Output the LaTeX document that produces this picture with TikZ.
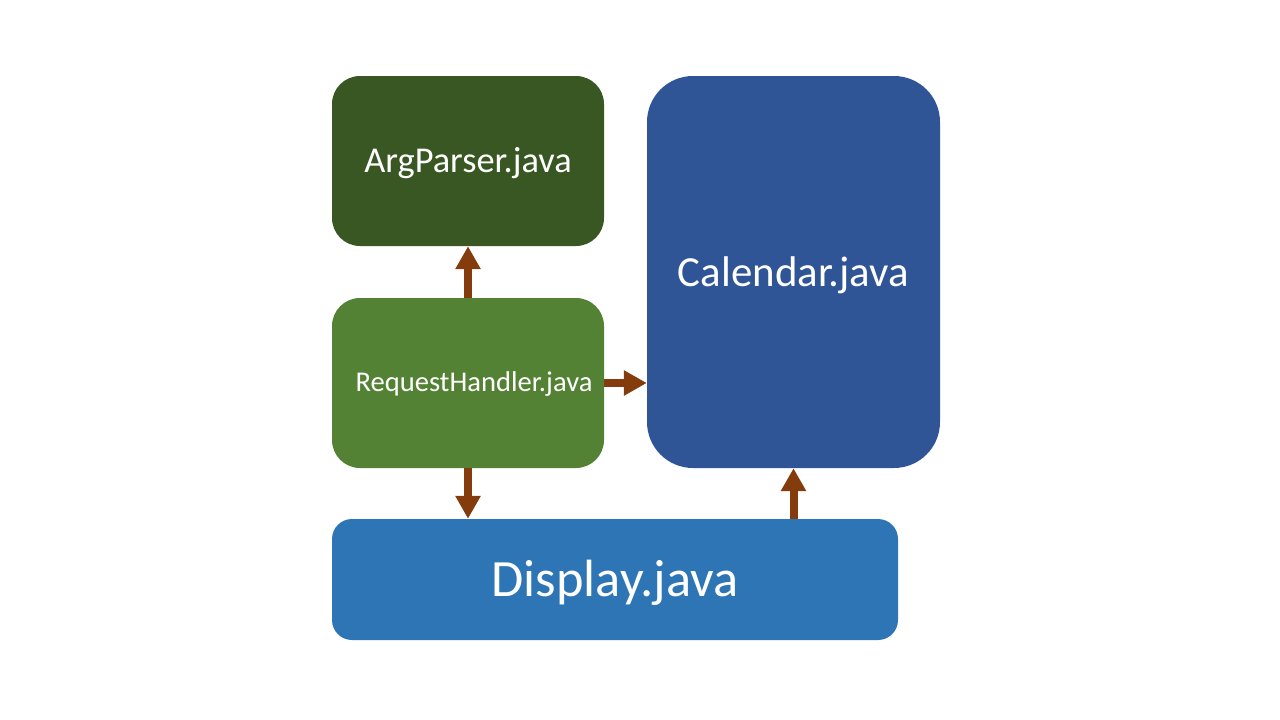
\documentclass[tikz,border=0pt]{standalone}
\usepackage{fontspec}
\setmainfont{Carlito}
\usetikzlibrary{arrows.meta}
\definecolor{apgreen}{HTML}{385723}
\definecolor{rhgreen}{HTML}{548235}
\definecolor{calblue}{HTML}{2F5597}
\definecolor{dispblue}{HTML}{2E75B6}
\definecolor{arrowbrown}{HTML}{843C0C}
\tikzset{
  box/.style={rectangle, inner sep=0pt, draw=none},
  lbl/.style={inner sep=0pt, text=white},
  conn/.style={draw=arrowbrown, line width=8pt, line cap=butt,
    -{Triangle[width=24pt,length=23pt]}},
}
\begin{document}
\begin{tikzpicture}[x=1pt,y=-1pt]
\useasboundingbox (0,0) rectangle (1280,720);
\node[box, fill=apgreen, rounded corners=28pt, minimum width=272pt, minimum height=170pt] (ap) at (468,161) {};
\node[box, fill=rhgreen, rounded corners=28pt, minimum width=272pt, minimum height=170pt] (rh) at (468,383) {};
\node[box, fill=calblue, rounded corners=46pt, minimum width=293pt, minimum height=392pt] (cal) at (793.5,272) {};
\node[box, fill=dispblue, rounded corners=20pt, minimum width=566pt, minimum height=121pt] (disp) at (615,579.5) {};
\node[lbl, font=\fontsize{36.4}{40}\selectfont] (apt) at ([yshift=-2pt]ap.center) {ArgParser.java};
\node[lbl, font=\fontsize{28.6}{32}\selectfont] (rht) at ([xshift=6pt,yshift=-1pt]rh.center) {RequestHandler.java};
\node[lbl, font=\fontsize{42.9}{48}\selectfont] (calt) at ([yshift=-3pt]cal.center) {Calendar.java};
\node[lbl, font=\fontsize{52.4}{58}\selectfont] (dispt) at ([yshift=-3pt]disp.center) {Display.java};
\draw[conn] (rh.north) -- (ap.south);
\draw[conn] (rh.east) -- (rh.east -| cal.west);
\draw[conn] (rh.south) -- (rh.south |- disp.north);
\draw[conn] (disp.north -| cal.south) -- (cal.south);
\end{tikzpicture}
\end{document}
